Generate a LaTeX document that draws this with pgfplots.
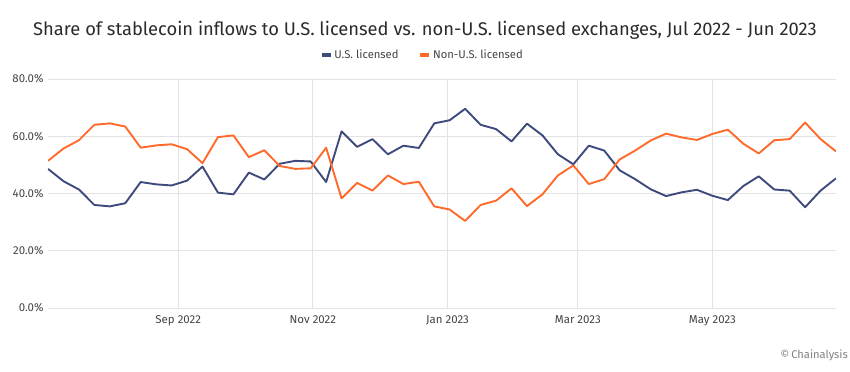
\documentclass[border=0pt]{standalone}
\usepackage{fontspec}
\setmainfont{Fira Sans}
\usepackage{pgfplots}
\pgfplotsset{compat=1.18}
\definecolor{usblue}{HTML}{3E4A7C}
\definecolor{nonorange}{HTML}{FF6A2B}
\definecolor{txt}{HTML}{2A2A2A}
\definecolor{lbl}{HTML}{444444}
\definecolor{gridc}{HTML}{E3E3E3}
\definecolor{axc}{HTML}{A0A0A0}

\begin{document}
\begin{tikzpicture}
\path[use as bounding box] (-48bp,-64bp) rectangle (802bp,308bp);
\begin{axis}[
  at={(0,0)}, anchor=south west,
  scale only axis, width=788bp, height=229bp,
  xmin=0, xmax=51, ymin=0, ymax=80,
  axis line style={draw=none},
  tick style={draw=none},
  xtick={8.43,17.14,25.86,34.29,43},
  xticklabels={Sep 2022,Nov 2022,Jan 2023,Mar 2023,May 2023},
  ytick={20,40,60,80},
  yticklabels={20.0\%,40.0\%,60.0\%,80.0\%},
  extra y ticks={0},
  extra y tick labels={0.0\%},
  extra y tick style={grid style={draw=axc, line width=1.6bp}},
  grid=major,
  major grid style={draw=gridc, line width=0.9bp},
  ticklabel style={font=\fontsize{11.5}{13}\selectfont, text=lbl},
  xticklabel style={yshift=-4bp},
  yticklabel style={xshift=-1bp},
  legend style={at={(0.475,1.105)}, anchor=center, draw=none, fill=none,
    legend columns=2, font=\fontsize{11.3}{13}\selectfont, text=lbl,
    /tikz/every even column/.append style={column sep=18bp}},
  legend image code/.code={\draw[line width=3.5bp] (0bp,0bp) -- (9bp,0bp);},
]
\addplot[usblue, line width=1.9bp, line join=round] table[x=i, y=v] {
i v
0 48.6
1 44.3
2 41.4
3 36.0
4 35.5
5 36.6
6 44.0
7 43.2
8 42.8
9 44.5
10 49.4
11 40.3
12 39.7
13 47.3
14 44.9
15 50.4
16 51.4
17 51.2
18 44.0
19 61.7
20 56.3
21 59.0
22 53.7
23 56.7
24 55.9
25 64.5
26 65.6
27 69.6
28 64.0
29 62.5
30 58.2
31 64.4
32 60.3
33 53.7
34 50.2
35 56.7
36 55.0
37 48.1
38 45.0
39 41.5
40 39.1
41 40.4
42 41.3
43 39.2
44 37.7
45 42.6
46 46.0
47 41.4
48 41.0
49 35.2
50 41.0
51 45.3
};
\addlegendentry{U.S. licensed}
\addplot[nonorange, line width=1.9bp, line join=round] table[x=i, y=v] {
i v
0 51.4
1 55.7
2 58.6
3 64.0
4 64.5
5 63.4
6 56.0
7 56.8
8 57.2
9 55.5
10 50.6
11 59.7
12 60.3
13 52.7
14 55.1
15 49.6
16 48.6
17 48.8
18 56.0
19 38.3
20 43.7
21 41.0
22 46.3
23 43.3
24 44.1
25 35.5
26 34.4
27 30.4
28 36.0
29 37.5
30 41.8
31 35.6
32 39.7
33 46.3
34 49.8
35 43.3
36 45.0
37 51.9
38 55.0
39 58.5
40 60.9
41 59.6
42 58.7
43 60.8
44 62.3
45 57.4
46 54.0
47 58.6
48 59.0
49 64.8
50 59.0
51 54.7
};
\addlegendentry{Non-U.S. licensed}
\end{axis}
\node[font=\fontsize{18.4}{22}\selectfont, text=txt] at (377bp,278bp)
  {Share of stablecoin inflows to U.S. licensed vs. non-U.S. licensed exchanges, Jul 2022 - Jun 2023};
\node[anchor=east, font=\fontsize{11.2}{13}\selectfont, text=gray, inner sep=0pt] at (800bp,-47bp)
  {\textcopyright\,Chainalysis};
\end{tikzpicture}
\end{document}
